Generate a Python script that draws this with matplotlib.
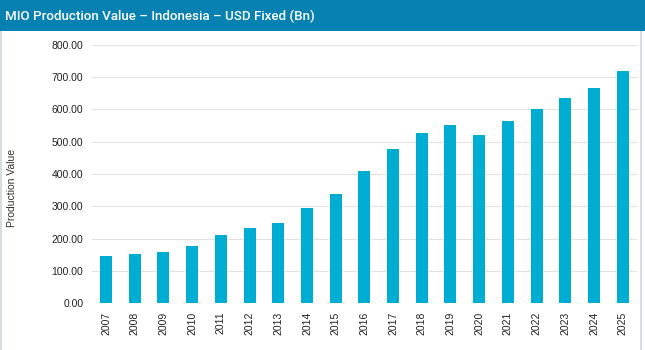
import matplotlib
matplotlib.use("Agg")
import matplotlib.pyplot as plt
from matplotlib.patches import Rectangle

years = [str(y) for y in range(2007, 2026)]
values = [147, 152, 160, 177, 211, 232, 248, 295, 339, 408,
          477, 527, 551, 522, 563, 600, 635, 666, 719]
yticks = [0, 100, 200, 300, 400, 500, 600, 700, 800]
title = "MIO Production Value \u2013 Indonesia \u2013 USD Fixed (Bn)"
ylabel = "Production Value"

plt.rcParams['font.family'] = ['Liberation Sans', 'DejaVu Sans']

fig = plt.figure(figsize=(6.45, 3.5), dpi=100)
fig.patch.set_facecolor('white')

# header band
fig.patches.append(Rectangle((0, 1 - 31/350), 1, 31/350, transform=fig.transFigure,
                             facecolor='#0681B2', edgecolor='none', zorder=0))
# side borders
fig.patches.append(Rectangle((0, 0), 2/645, 1 - 31/350, transform=fig.transFigure,
                             facecolor='#d6dde2', edgecolor='none', zorder=0))
fig.patches.append(Rectangle((640/645, 0), 2/645, 1 - 31/350, transform=fig.transFigure,
                             facecolor='#d6dde2', edgecolor='none', zorder=0))
fig.text(5/645, 1 - 16/350, title, color='white', fontsize=9.6, fontweight='medium',
         family=['Roboto', 'DejaVu Sans'], va='center', ha='left')

ax = fig.add_axes([91.7/645, 46.7/350, (637-91.7)/645, (303.3-44.7)/350])
x = list(range(len(years)))
ax.bar(x, values, width=0.42, color='#00ADD2', zorder=3)
ax.set_xlim(-0.5, len(years) - 0.5)
ax.set_ylim(0, 800)
ax.set_yticks(yticks)
ax.set_yticklabels([f"{v:.2f}" for v in yticks], fontsize=7.5, color='#222222')
ax.set_xticks(x)
ax.set_xticklabels(years, rotation=90, fontsize=7.5, color='#222222')
ax.tick_params(axis='both', length=0, pad=6)
ax.grid(axis='y', color='#e2e2e2', linewidth=0.8, zorder=0)
for s in ax.spines.values():
    s.set_visible(False)
ax.axhline(0, color='#e2e2e2', linewidth=0.8, zorder=1)
fig.text(12/645, 1 - 188/350, ylabel, rotation=90, fontsize=7.5, color='#333333',
         va='center', ha='center')

fig.savefig('out.png', dpi=100)
